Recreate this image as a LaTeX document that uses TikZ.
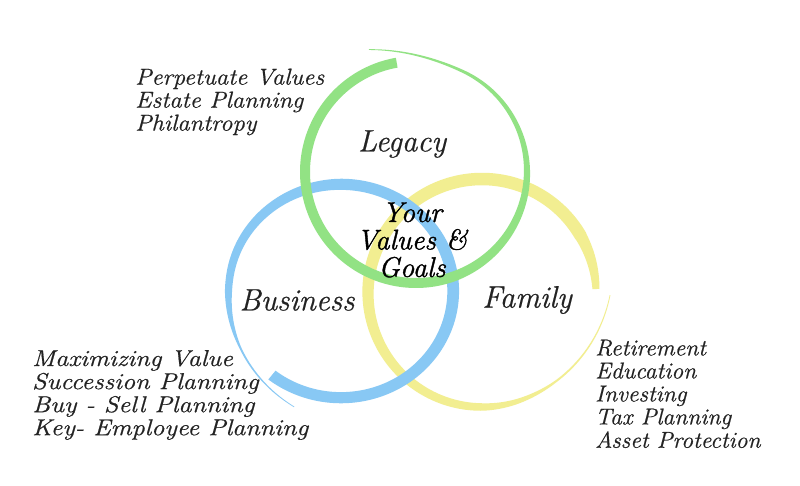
\documentclass[tikz,border=0pt]{standalone}
\usepackage{fontspec}
\newfontfamily\hand{Latin Modern Roman}[FakeBold=0.6]
\definecolor{lgreen}{RGB}{146,226,132}
\definecolor{lblue}{RGB}{136,200,244}
\definecolor{lyellow}{RGB}{242,238,145}
\definecolor{ink}{RGB}{35,35,35}
\newcommand\brushstroke[9]{%
  \fill[#1] plot[domain=#6:#7,samples=240,smooth] ({#2+(#8(\x)+#9(\x)/2)*#4*cos(\x)},{#3-(#8(\x)+#9(\x)/2)*#5*sin(\x)})
   -- plot[domain=#7:#6,samples=240,smooth] ({#2+(#8(\x)-#9(\x)/2)*#4*cos(\x)},{#3-(#8(\x)-#9(\x)/2)*#5*sin(\x)}) -- cycle;}
\newcommand\stretchlines[2]{\scalebox{#1}[1]{\begin{tabular}{@{}l@{}}#2\end{tabular}}}
\begin{document}
\begin{tikzpicture}[x=1pt,y=-1pt,
  declare function={
    gr(\x)=111+((\x>425)*(\x-425))^2*0.0095;
    gw(\x)=ifthenelse(\x<290,10,ifthenelse(\x<380,10-(\x-290)*5/90,5-(\x-380)*4.2/91));
    br(\x)=110+((\x>530)*(\x-530))^2*0.00288;
    bw(\x)=ifthenelse(\x<450,11.5,ifthenelse(\x<540,11.5-(\x-450)*4.5/90,ifthenelse(\x<570,7-(\x-540)*5/30,2-(\x-570)*1.3/39)));
    yr(\x)=114+((\x>290)*(\x-290))^2*0.00294;
    yw(\x)=ifthenelse(\x<30,7+(\x-2)*5/28,ifthenelse(\x<150,12.5,ifthenelse(\x<270,12.5-(\x-150)*5/120,ifthenelse(\x<310,7.5-(\x-270)*5.5/40,2-(\x-310)*1.2/49))));
  },
  lbl/.style={font=\hand\fontsize{23}{23}\selectfont\itshape, text=ink, inner sep=0pt},
  big/.style={font=\hand\fontsize{31}{31}\selectfont\itshape, text=ink, inner sep=0pt},
  ctr/.style={font=\hand\fontsize{28.5}{27.5}\selectfont\itshape\addfontfeatures{FakeBold=1.3}, text=black, inner sep=0pt, align=center}]
\useasboundingbox[fill=white] (0,0) rectangle (800,486);
% circles
\brushstroke{lyellow}{482}{293}{1}{1}{2}{359}{yr}{yw}
\brushstroke{lblue}{341}{291}{1.02}{0.97}{232}{609}{br}{bw}
\brushstroke{lgreen}{416}{172}{1}{1}{100}{471}{gr}{gw}
% labels
\node[big] (legacy) at (402,144) {Legacy};
\node[big] (business) at (297,300) {Business};
\node[big] (family) at (527,300) {Family};
\node[ctr] (center) at (412,240) {Your\\Values \&\\Goals};
\node[lbl, anchor=west] (legacylist) at (135,103) {\stretchlines{1.07}{Perpetuate Values\\Estate Planning\\Philantropy}};
\node[lbl, anchor=west] (businesslist) at (32,396) {\stretchlines{1.14}{Maximizing Value\\Succession Planning\\Buy - Sell Planning\\Key- Employee Planning}};
\node[lbl, anchor=west] (familylist) at (595,397) {\stretchlines{1.03}{Retirement\\Education\\Investing\\Tax Planning\\Asset Protection}};
\end{tikzpicture}
\end{document}
